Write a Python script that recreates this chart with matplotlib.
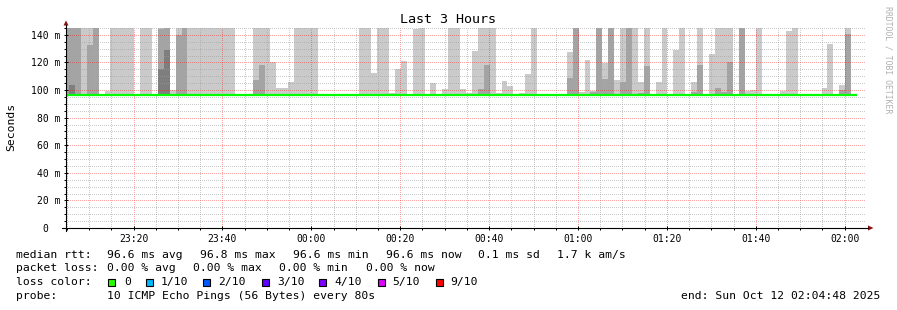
import matplotlib
matplotlib.use('Agg')
import matplotlib.pyplot as plt
import matplotlib.dates as mdates
from matplotlib.ticker import MultipleLocator, FixedLocator
from matplotlib.patches import Rectangle, Polygon
from matplotlib.lines import Line2D
from datetime import datetime, timedelta
import numpy as np

# ---------------- data (ms) ----------------
# smoke layers per 80 s step: top of lightest band, middle band, darkest band (None = no band)
light = [
    145, 145, 145, 145, 145, 145, None, 99.5, 145, 145,
    145, 145, None, 145, 145, None, 145, 145, 99.7, 145,
    145, 145, 145, 145, 145, 145, 145, 145, 145, None,
    None, None, 145, 145, 145, 120.3, 101.4, 101.4, 105.8, 145,
    145, 145, 145, None, None, None, None, None, None, None,
    145, 145, 112.3, 145, 145, 98, 115.2, 121, None, 144,
    145, None, 105, None, 100.7, 145, 145, 100.7, 98, 128.3,
    145, 145, 145, 98, 106.5, 102.9, None, 97.8, 111.6, 145,
    None, None, None, None, None, 127.5, 145, 98.5, 121.7, 99.4,
    145, 119.6, 145, 107.2, 145, 145, 145, 105.8, 145, None,
    105.8, 145, None, 129.2, 145, None, 105.8, 145, None, 126.1,
    145, 145, 145, None, 145, 99.5, 100.4, 145, None, None,
    None, 99.3, 142.8, 145, None, None, None, None, 101.4, 133.3,
    None, 103.6, 145, None,
]
medium = [
    145, 145, 145, None, 132.8, 145, None, None, None, None,
    None, None, None, None, None, None, 144, 145, None, 140,
    145, None, None, None, None, None, None, None, None, None,
    None, None, 107, 118.4, None, None, None, None, None, None,
    None, None, None, None, None, None, None, None, None, None,
    None, None, None, None, None, None, None, None, None, None,
    None, None, None, None, None, None, None, None, None, None,
    100.7, 118.4, None, None, None, None, None, None, None, None,
    None, None, None, None, None, 108.7, 145, None, None, 98.3,
    145, 108, 145, None, 105.8, 145, None, 98, 117.4, None,
    None, None, None, None, None, None, 98.5, 118.4, None, None,
    101.4, 98.5, 120.3, None, 145, None, None, None, None, None,
    None, None, None, None, None, None, None, None, None, None,
    None, 100, 140.6, None,
]
dark = [
    None, 103.9, None, None, None, None, None, None, None, None,
    None, None, None, None, None, None, 115.5, 129, None, None,
] + [None] * 114
median = [
    96.6, 96.6, 96.6, 96.6, 96.6, 96.6, 96.6, 96.6, 96.6, 96.6,
    96.6, 96.6, 96.6, 96.6, 96.6, 96.6, 96.6, 96.6, 96.6, 96.6,
    96.6, 96.6, 96.6, 96.6, 96.6, 96.6, 96.6, 96.6, 96.6, 96.6,
    96.6, 96.6, 96.6, 96.6, 96.6, 96.6, 96.6, 96.6, 96.6, 96.6,
    96.6, 96.6, 96.6, 96.6, 96.6, 96.6, 96.6, 96.6, 96.6, 96.6,
    96.6, 96.6, 96.6, 96.6, 96.6, 96.6, 96.6, 96.6, 96.6, 96.6,
    96.6, 96.6, 96.6, 96.6, 96.6, 96.6, 96.6, 96.6, 96.6, 96.6,
    96.6, 96.6, 96.6, 96.6, 96.6, 96.6, 96.6, 96.6, 96.6, 96.6,
    96.6, 96.6, 96.6, 96.6, 96.6, 96.6, 96.6, 96.6, 96.6, 96.6,
    96.6, 96.6, 96.6, 96.6, 96.6, 96.6, 96.6, 96.6, 96.6, 96.6,
    96.6, 96.6, 96.6, 96.6, 96.6, 96.6, 96.6, 96.6, 96.6, 96.6,
    96.6, 96.6, 96.6, 96.6, 96.6, 96.6, 96.6, 96.6, 96.6, 96.6,
    96.6, 96.6, 96.6, 96.6, 96.6, 96.6, 96.6, 96.6, 96.6, 96.6,
    96.6, 96.6, 96.6, 96.6,
]
smoke_base = 96.6
yticks = [0, 20, 40, 60, 80, 100, 120, 140]
ytick_labels = ["0  ", "20 m", "40 m", "60 m", "80 m", "100 m", "120 m", "140 m"]

loss_labels = ["0", "1/10", "2/10", "3/10", "4/10", "5/10", "9/10"]
loss_colors = ["#26ff00", "#00b8ff", "#0059ff", "#5e00ff", "#7e00ff", "#dd00ff", "#ff0000"]

first_step = datetime(2025, 10, 11, 23, 4, 8)
step = timedelta(seconds=80)
view_start = datetime(2025, 10, 11, 23, 4, 48)
view_end = datetime(2025, 10, 12, 2, 4, 48)

# ---------------- figure ----------------
plt.rcParams['font.family'] = ['DejaVu Sans Mono', 'DejaVu Sans']
W, H = 897, 310
fig = plt.figure(figsize=(W / 100, H / 100), dpi=100)
fig.patch.set_facecolor('white')


def fx(px):
    return px / W


def fy(py):
    return 1 - py / H


ax = fig.add_axes([fx(66), 82 / H, 800 / W, 200 / H])
ax.set_facecolor('white')

edges = mdates.date2num([first_step + i * step for i in range(len(light) + 1)])
bw = edges[1] - edges[0]

for vals, col in [(light, '#cacaca'), (medium, '#a4a4a4'), (dark, '#7e7e7e')]:
    xs = [edges[i] for i, v in enumerate(vals) if v is not None]
    hs = [v - smoke_base for v in vals if v is not None]
    ax.bar(xs, hs, bottom=smoke_base, width=bw, align='edge', color=col,
           linewidth=0, antialiased=False, zorder=1)

ax.stairs(median, edges, baseline=None, color='#00ff00', linewidth=1.6, zorder=4)

ax.set_xlim(mdates.date2num(view_start), mdates.date2num(view_end))
ax.set_ylim(0, 145)

ax.xaxis.set_major_locator(mdates.MinuteLocator(byminute=[0, 20, 40]))
ax.xaxis.set_minor_locator(mdates.MinuteLocator(byminute=list(range(0, 60, 5))))
ax.xaxis.set_major_formatter(mdates.DateFormatter('%H:%M'))
ax.yaxis.set_major_locator(FixedLocator(yticks))
ax.set_yticklabels(ytick_labels)
ax.yaxis.set_minor_locator(MultipleLocator(5))

ax.set_axisbelow(False)
ax.grid(which='minor', color='#a0a0a0', alpha=0.55, linewidth=0.72, linestyle=(0.5, (1, 1)))
ax.grid(which='major', color='#ff0000', alpha=0.36, linewidth=0.72, linestyle=(0.5, (1, 1)))

for s in ax.spines.values():
    s.set_visible(False)
ax.tick_params(which='major', direction='inout', length=2.9, width=0.72, color='black',
               labelsize=7, labelcolor='black')
ax.tick_params(which='minor', direction='out', length=1.4, width=0.72, color='black')
ax.tick_params(axis='x', which='major', pad=2.6)
ax.tick_params(axis='y', which='major', pad=2.6)

# axis lines with arrows
fig.add_artist(Line2D([fx(62), fx(868)], [fy(228), fy(228)], color='black', lw=0.8))
fig.add_artist(Line2D([fx(66), fx(66)], [fy(231), fy(25)], color='black', lw=0.8))
fig.add_artist(Polygon([[fx(868), fy(225.5)], [fx(868), fy(230.5)], [fx(873.5), fy(228)]],
                       closed=True, color='#8b1010', lw=0))
fig.add_artist(Polygon([[fx(63.5), fy(25.5)], [fx(68.5), fy(25.5)], [fx(66), fy(20.5)]],
                       closed=True, color='#8b1010', lw=0))

# titles
fig.text(fx(448), fy(19.5), 'Last 3 Hours', ha='center', va='center', fontsize=9.6)
fig.text(fx(11), fy(127), 'Seconds', ha='center', va='center', rotation=90, fontsize=8.2)
fig.text(fx(888), fy(60), 'RRDTOOL / TOBI OETIKER', ha='center', va='center', rotation=270,
         fontsize=5.9, color='#b0b0b0')

# legend block
fs = 8.2
row_y = [254.7, 268.3, 282.3, 296.3]
for x, s in [(16, 'median rtt:'), (107, '96.6 ms avg'), (200, '96.8 ms max'),
             (293, '96.6 ms min'), (386, '96.6 ms now'), (478, '0.1 ms sd'),
             (557, '1.7 k am/s')]:
    fig.text(fx(x), fy(row_y[0]), s, ha='left', va='center', fontsize=fs)
for x, s in [(16, 'packet loss:'), (107, '0.00 % avg'), (193, '0.00 % max'),
             (279, '0.00 % min'), (366, '0.00 % now')]:
    fig.text(fx(x), fy(row_y[1]), s, ha='left', va='center', fontsize=fs)
fig.text(fx(16), fy(row_y[2]), 'loss color:', ha='left', va='center', fontsize=fs)
box_x = [108, 146, 203, 262, 319, 378, 436]
lab_x = [124, 160.7, 218, 277, 334, 392, 450]
for bx, lx, lab, c in zip(box_x, lab_x, loss_labels, loss_colors):
    fig.add_artist(Rectangle((fx(bx), fy(285.8)), 7 / W, 7 / H, facecolor=c,
                             edgecolor='black', lw=0.8))
    fig.text(fx(lx), fy(row_y[2]), lab, ha='left', va='center', fontsize=fs)
fig.text(fx(16), fy(row_y[3]), 'probe:', ha='left', va='center', fontsize=fs)
fig.text(fx(107), fy(row_y[3]), '10 ICMP Echo Pings (56 Bytes) every 80s', ha='left',
         va='center', fontsize=fs)
fig.text(fx(880.5), fy(row_y[3]), 'end: Sun Oct 12 02:04:48 2025', ha='right',
         va='center', fontsize=fs)

fig.savefig('out.png', dpi=100, facecolor='white')
